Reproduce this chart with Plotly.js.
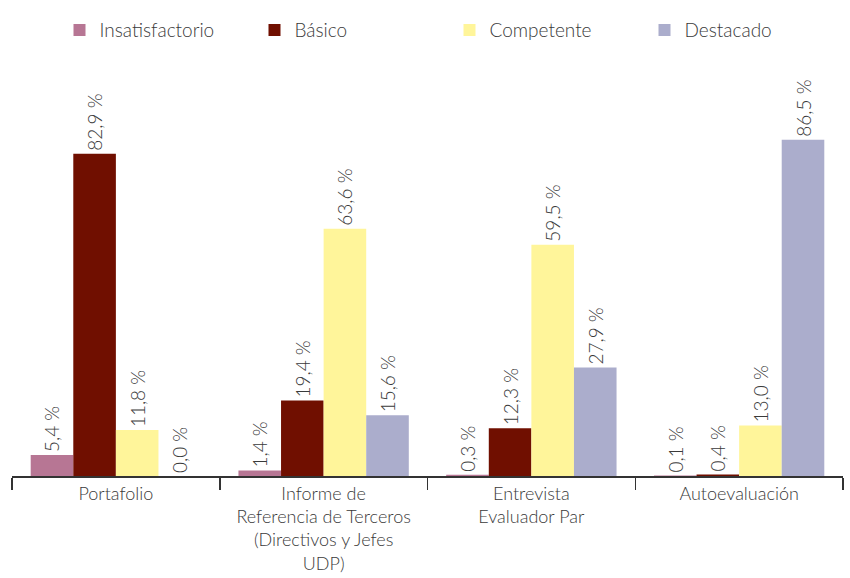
<!DOCTYPE html>
<html>
<head>
<meta charset="utf-8">
<script src="https://cdn.plot.ly/plotly-3.0.1.min.js"></script>
<style>html,body{margin:0;padding:0;background:#fff;}#chart{width:850px;height:578px;}</style>
</head>
<body>
<div id="chart"></div>
<script>
const categories = [
  "Portafolio",
  "Informe de<br>Referencia de Terceros<br>(Directivos y Jefes<br>UDP)",
  "Entrevista<br>Evaluador Par",
  "Autoevaluación"
];
const seriesNames = ["Insatisfactorio", "Básico", "Competente", "Destacado"];
const insatisfactorio = [5.4, 1.4, 0.3, 0.1];
const basico = [82.9, 19.4, 12.3, 0.4];
const competente = [11.8, 63.6, 59.5, 13.0];
const destacado = [0.0, 15.6, 27.9, 86.5];
const colors = ["#b77694", "#700f00", "#fff59a", "#abadcc"];

const seriesValues = [insatisfactorio, basico, competente, destacado];
const FONT = "Lato, 'Open Sans', sans-serif";
const TXT = "#3a3a3a";
const traces = seriesValues.map((vals, i) => ({
  type: "bar",
  name: seriesNames[i],
  x: categories,
  y: vals,
  marker: {color: colors[i], line: {width: 0}},
  texttemplate: "%{y:.1f} %",
  textposition: "outside",
  textangle: -90,
  constraintext: "none",
  cliponaxis: false,
  textfont: {family: FONT, size: 19, color: TXT, weight: 300},
  hoverinfo: "skip"
}));

const layout = {
  width: 850, height: 578,
  margin: {l: 12, r: 7, t: 60, b: 102},
  paper_bgcolor: "#fff", plot_bgcolor: "#fff",
  separators: ",.",
  barmode: "group",
  bargap: 0.18,
  bargroupgap: 0,
  font: {family: FONT, color: TXT, weight: 300},
  showlegend: true,
  legend: {
    orientation: "h",
    xref: "container", yref: "container",
    x: 0.07, y: 0.948, xanchor: "left", yanchor: "middle",
    entrywidth: 150, entrywidthmode: "pixels",
    font: {family: FONT, size: 19, color: TXT, weight: 300},
    traceorder: "normal",
    itemclick: false, itemdoubleclick: false
  },
  xaxis: {
    type: "category",
    showline: true, linecolor: "#333", linewidth: 2,
    ticks: "outside", tickson: "boundaries", ticklen: 12, tickwidth: 1.5, tickcolor: "#333",
    tickfont: {family: FONT, size: 18, color: TXT, weight: 300},
    showgrid: false, zeroline: false, fixedrange: true
  },
  yaxis: {
    range: [0, 107],
    visible: false, showgrid: false, zeroline: false, fixedrange: true
  }
};

Plotly.newPlot("chart", traces, layout, {displayModeBar: false, staticPlot: true});
</script>
</body>
</html>
